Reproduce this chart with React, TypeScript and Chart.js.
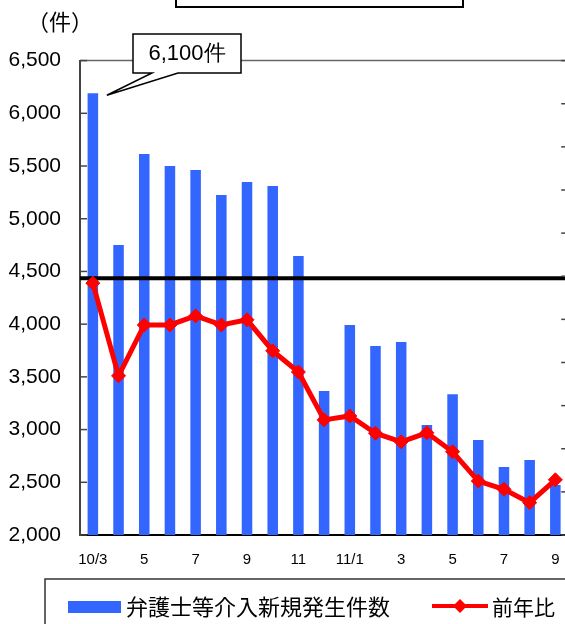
import React, { useEffect, useRef } from "react";
import { Chart, registerables } from "chart.js";

Chart.register(...registerables);

const MONTHS = ["10/3", "4", "5", "6", "7", "8", "9", "10", "11", "12", "11/1", "2", "3", "4", "5", "6", "7", "8", "9"];
const CASES = [6190, 4750, 5614, 5500, 5462, 5225, 5348, 5310, 4646, 3365, 3991, 3793, 3831, 3043, 3336, 2900, 2644, 2711, 2474];
const YOY = [98.4, 76.9, 88.7, 88.7, 90.8, 88.7, 89.9, 82.7, 77.8, 66.7, 67.6, 63.6, 61.6, 63.7, 59.3, 52.5, 50.6, 47.5, 52.8];
const REF_LEVEL = 100;
const CASES_LABEL = "弁護士等介入新規発生件数";
const YOY_LABEL = "前年比";
const UNIT_LABEL = "（件）";
const CALLOUT_TEXT = "6,100件";

const BLUE = "#3366ff";
const RED = "#ff0000";
const NUM_FONT = "'Liberation Sans', Arial, sans-serif";
const JP_FONT = "'Noto Sans CJK JP', sans-serif";

const overlay = {
  id: "overlay",
  afterDatasetDraw(chart: any, args: any) {
    if (args.index !== 0) return;
    const { ctx, chartArea } = chart;
    const y2 = chart.scales.y2;
    const yy = y2.getPixelForValue(REF_LEVEL) + 2;
    ctx.save();
    ctx.strokeStyle = "#000";
    ctx.lineWidth = 4;
    ctx.beginPath();
    ctx.moveTo(chartArea.left, yy);
    ctx.lineTo(chartArea.right, yy);
    ctx.stroke();
    ctx.restore();
  },
  afterDraw(chart: any) {
    const { ctx, chartArea } = chart;
    const y = chart.scales.y;
    const y2 = chart.scales.y2;
    const x = chart.scales.x;
    ctx.save();
    // top border
    ctx.strokeStyle = "#666";
    ctx.lineWidth = 1.5;
    ctx.beginPath();
    ctx.moveTo(chartArea.left, chartArea.top);
    ctx.lineTo(chartArea.right, chartArea.top);
    ctx.stroke();
    // inner tick marks
    ctx.strokeStyle = "#444";
    ctx.lineWidth = 1.5;
    y.ticks.forEach((t: any) => {
      const py = y.getPixelForValue(t.value);
      ctx.beginPath();
      ctx.moveTo(chartArea.left, py);
      ctx.lineTo(chartArea.left + 7, py);
      ctx.stroke();
    });
    y2.ticks.forEach((t: any) => {
      const py = y2.getPixelForValue(t.value);
      ctx.beginPath();
      ctx.moveTo(chartArea.right - 7, py);
      ctx.lineTo(chartArea.right, py);
      ctx.stroke();
    });
    // title box (cropped)
    ctx.strokeStyle = "#000";
    ctx.lineWidth = 2;
    ctx.strokeRect(176, -20, 287, 27);
    // unit label
    ctx.fillStyle = "#000";
    ctx.font = `22px ${JP_FONT}`;
    ctx.textAlign = "center";
    ctx.textBaseline = "middle";
    ctx.fillText(UNIT_LABEL, 60, 22);
    // callout
    const tipX = x.getPixelForValue(0) + 14;
    const tipY = y.getPixelForValue(CASES[0]) + 2;
    ctx.fillStyle = "#fff";
    ctx.strokeStyle = "#000";
    ctx.lineWidth = 1.5;
    ctx.beginPath();
    ctx.moveTo(133, 34);
    ctx.lineTo(241, 34);
    ctx.lineTo(241, 73);
    ctx.lineTo(178, 73);
    ctx.lineTo(tipX, tipY);
    ctx.lineTo(152, 73);
    ctx.lineTo(133, 73);
    ctx.closePath();
    ctx.fill();
    ctx.stroke();
    ctx.fillStyle = "#000";
    ctx.font = `22px ${NUM_FONT}`;
    ctx.fillText(CALLOUT_TEXT, 187, 54);
    // legend box
    ctx.strokeStyle = "#333";
    ctx.lineWidth = 1.5;
    ctx.beginPath();
    ctx.moveTo(45, 640);
    ctx.lineTo(45, 579);
    ctx.lineTo(600, 579);
    ctx.stroke();
    ctx.fillStyle = BLUE;
    ctx.fillRect(68, 601, 53, 12);
    ctx.fillStyle = "#000";
    ctx.font = `22px ${JP_FONT}`;
    ctx.textAlign = "left";
    ctx.fillText(CASES_LABEL, 126, 607);
    ctx.strokeStyle = RED;
    ctx.lineWidth = 4;
    ctx.beginPath();
    ctx.moveTo(432, 606);
    ctx.lineTo(488, 606);
    ctx.stroke();
    ctx.fillStyle = RED;
    ctx.beginPath();
    ctx.moveTo(460, 599);
    ctx.lineTo(467, 606);
    ctx.lineTo(460, 613);
    ctx.lineTo(453, 606);
    ctx.closePath();
    ctx.fill();
    ctx.fillStyle = "#000";
    ctx.font = `21px ${JP_FONT}`;
    ctx.fillText(YOY_LABEL, 492, 607);
    ctx.restore();
  },
};

export default function App() {
  const ref = useRef<HTMLCanvasElement>(null);
  useEffect(() => {
    if (!ref.current) return;
    const chart = new Chart(ref.current, {
      type: "bar",
      data: {
        labels: MONTHS,
        datasets: [
          {
            type: "bar",
            label: CASES_LABEL,
            data: CASES,
            backgroundColor: BLUE,
            barPercentage: 0.41,
            categoryPercentage: 1,
            yAxisID: "y",
            order: 2,
          } as any,
          {
            type: "line",
            label: YOY_LABEL,
            data: YOY,
            borderColor: RED,
            backgroundColor: RED,
            borderWidth: 5,
            pointStyle: "rectRot",
            pointRadius: 7,
            pointBorderWidth: 1,
            pointBackgroundColor: RED,
            pointBorderColor: RED,
            tension: 0,
            yAxisID: "y2",
            order: 1,
          } as any,
        ],
      },
      options: {
        animation: false,
        responsive: true,
        maintainAspectRatio: false,
        layout: { padding: { left: 0, right: 11.8, top: 60.6, bottom: 49 } },
        plugins: { legend: { display: false }, tooltip: { enabled: false } },
        scales: {
          x: {
            grid: { display: false },
            border: { display: true, color: "#000", width: 2 },
            ticks: {
              autoSkip: false,
              maxRotation: 0,
              padding: 8,
              color: "#000",
              font: { family: NUM_FONT, size: 15 },
              callback: (_v: any, i: number) => (i % 2 === 0 ? MONTHS[i] : ""),
            },
            afterFit: (s: any) => {
              s.height = 40;
            },
          },
          y: {
            position: "left",
            min: 2000,
            max: 6500,
            grid: { display: false },
            border: { display: true, color: "#444", width: 2 },
            ticks: {
              stepSize: 500,
              padding: 11,
              color: "#000",
              font: { family: NUM_FONT, size: 21 },
              callback: (v: any) => Number(v).toLocaleString("en-US"),
            },
            afterFit: (s: any) => {
              s.width = 80;
            },
          },
          y2: {
            position: "right",
            min: 40,
            max: 150,
            grid: { display: false },
            border: { display: true, color: "#444", width: 2 },
            ticks: { stepSize: 10, display: false },
            afterFit: (s: any) => {
              s.width = 20;
            },
          },
        },
      },
      plugins: [overlay],
    });
    return () => chart.destroy();
  }, []);
  return (
    <div style={{ position: "fixed", left: 0, top: 0, width: 565, height: 624, overflow: "hidden", background: "#fff" }}>
      <div style={{ position: "relative", width: 600, height: 624 }}>
        <canvas ref={ref} />
      </div>
    </div>
  );
}
